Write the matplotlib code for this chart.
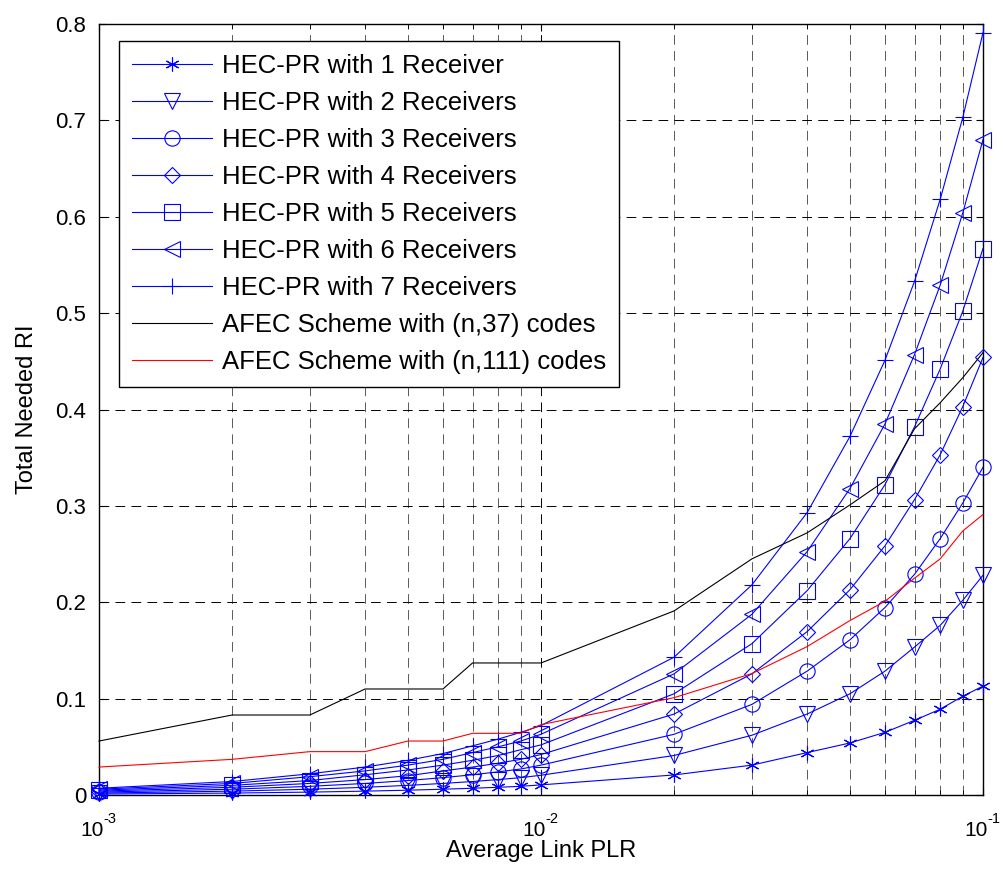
import matplotlib
matplotlib.use("Agg")
import matplotlib.pyplot as plt
from matplotlib.ticker import FixedLocator, FixedFormatter, LogLocator, NullFormatter

plt.rcParams['font.family'] = ['Liberation Sans', 'DejaVu Sans']
plt.rcParams['lines.scale_dashes'] = False

# ---- data ----
plr = [0.001, 0.002, 0.003, 0.004, 0.005, 0.006, 0.007, 0.008, 0.009,
       0.01, 0.02, 0.03, 0.04, 0.05, 0.06, 0.07, 0.08, 0.09, 0.1]

hec1 = [0.001, 0.002, 0.003, 0.004, 0.005, 0.006, 0.007, 0.008, 0.009,
        0.0105, 0.0208, 0.031, 0.044, 0.054, 0.065, 0.0775, 0.089, 0.1025, 0.113]
hec2 = [0.002, 0.004, 0.006, 0.008, 0.010, 0.012, 0.014, 0.016, 0.018,
        0.0205, 0.041, 0.062, 0.084, 0.105, 0.1285, 0.1535, 0.176, 0.202, 0.228]
hec3 = [0.003, 0.006, 0.009, 0.012, 0.015, 0.018, 0.021, 0.024, 0.027,
        0.031, 0.063, 0.094, 0.1285, 0.161, 0.1945, 0.229, 0.266, 0.303, 0.340]
hec4 = [0.004, 0.008, 0.012, 0.016, 0.020, 0.025, 0.029, 0.033, 0.037,
        0.042, 0.084, 0.1257, 0.1695, 0.213, 0.2585, 0.3065, 0.353, 0.403, 0.454]
hec5 = [0.005, 0.010, 0.015, 0.021, 0.026, 0.031, 0.036, 0.041, 0.047,
        0.052, 0.105, 0.157, 0.212, 0.266, 0.322, 0.382, 0.442, 0.502, 0.567]
hec6 = [0.006, 0.012, 0.019, 0.025, 0.031, 0.037, 0.044, 0.050, 0.056,
        0.063, 0.1257, 0.1875, 0.2525, 0.318, 0.385, 0.457, 0.529, 0.604, 0.680]
hec7 = [0.007, 0.014, 0.022, 0.029, 0.036, 0.043, 0.051, 0.058, 0.065,
        0.072, 0.143, 0.218, 0.293, 0.372, 0.451, 0.533, 0.618, 0.703, 0.791]

afec37 = [0.056, 0.083, 0.083, 0.110, 0.110, 0.110, 0.137, 0.137, 0.137,
          0.137, 0.191, 0.245, 0.272, 0.301, 0.326, 0.380, 0.407, 0.433, 0.459]
afec111 = [0.029, 0.037, 0.045, 0.045, 0.056, 0.056, 0.064, 0.064, 0.064,
           0.073, 0.101, 0.126, 0.154, 0.181, 0.201, 0.225, 0.245, 0.274, 0.291]

hec_series = [hec1, hec2, hec3, hec4, hec5, hec6, hec7]
hec_labels = ['HEC-PR with 1 Receiver', 'HEC-PR with 2 Receivers',
              'HEC-PR with 3 Receivers', 'HEC-PR with 4 Receivers',
              'HEC-PR with 5 Receivers', 'HEC-PR with 6 Receivers',
              'HEC-PR with 7 Receivers']
afec_labels = ['AFEC Scheme with (n,37) codes', 'AFEC Scheme with (n,111) codes']

yticks = [0, 0.1, 0.2, 0.3, 0.4, 0.5, 0.6, 0.7, 0.8]
ytick_labels = ['0', '0.1', '0.2', '0.3', '0.4', '0.5', '0.6', '0.7', '0.8']
xticks = [1e-3, 1e-2, 1e-1]
xtick_base = ['10', '10', '10']
xtick_exp = ['-3', '-2', '-1']

# ---- styles ----
markers = [(6, 2, 0), 'v', 'o', 'D', 's', '<', '+']
msizes = [10, 11, 11, 8.5, 11.5, 12, 12]
blue = '#0000ff'

fig = plt.figure(figsize=(10.04, 8.75), dpi=100)
ax = fig.add_axes([99/1004, 1 - 795/875, (983 - 99)/1004, (795 - 24)/875])

for ys, lab, mk, ms in zip(hec_series, hec_labels, markers, msizes):
    ax.plot(plr, ys, color=blue, lw=0.8, marker=mk, ms=ms, mfc='none',
            mec=blue, mew=0.8, label=lab, clip_on=False, zorder=3)

ax.plot(plr, afec37, color='black', lw=0.8, label=afec_labels[0], clip_on=False, zorder=3)
ax.plot(plr, afec111, color='red', lw=0.8, label=afec_labels[1], clip_on=False, zorder=3)

ax.set_xscale('log')
ax.set_xlim(xticks[0], xticks[-1])
ax.set_ylim(yticks[0], yticks[-1])
ax.yaxis.set_major_locator(FixedLocator(yticks))
ax.yaxis.set_major_formatter(FixedFormatter(ytick_labels))
ax.xaxis.set_major_locator(FixedLocator(xticks))
ax.xaxis.set_major_formatter(NullFormatter())
ax.xaxis.set_minor_locator(LogLocator(base=10, subs=[2, 3, 4, 5, 6, 7, 8, 9]))
ax.xaxis.set_minor_formatter(NullFormatter())

# x tick labels: "10" with a raised exponent, whole label centred on the tick
xt = ax.get_xaxis_transform()
for xv, b, e in zip(xticks, xtick_base, xtick_exp):
    ax.annotate(b, xy=(xv, 0), xycoords=xt, xytext=(3.5, -18.5),
                textcoords='offset points', ha='right', va='top', fontsize=15,
                annotation_clip=False)
    ax.annotate(e, xy=(xv, 0), xycoords=xt, xytext=(3.5, -12.5),
                textcoords='offset points', ha='left', va='top', fontsize=10.5,
                annotation_clip=False)

dash = (0, (7, 4.5))
ax.grid(which='major', axis='both', color='black', lw=0.7, linestyle=dash, zorder=0)
ax.grid(which='minor', axis='x', color='0.35', lw=0.7, linestyle=dash, zorder=0)
ax.set_axisbelow(True)

ax.tick_params(which='both', direction='in', top=True, right=True)
ax.tick_params(which='major', length=5, width=0.8)
ax.tick_params(which='minor', length=3.5, width=0.6)
ax.tick_params(axis='y', labelsize=16, pad=9)
for sp in ax.spines.values():
    sp.set_linewidth(1.0)

ax.set_xlabel('Average Link PLR', fontsize=17, va='top')
ax.xaxis.set_label_coords(0.5, -(840 - 795) / 771)
ax.set_ylabel('Total Needed RI', fontsize=17)
ax.yaxis.set_label_coords(-(99 - 38) / 884, 0.5)

leg = ax.legend(loc='upper left', bbox_to_anchor=(0.0223, 0.9783),
                borderaxespad=0, fontsize=18.5, handlelength=3.15,
                handletextpad=0.38, labelspacing=0.51, borderpad=0.5,
                fancybox=False, framealpha=1, edgecolor='black', numpoints=1)
leg.get_frame().set_linewidth(1.0)

fig.savefig('out.png', dpi=100, facecolor='white')
